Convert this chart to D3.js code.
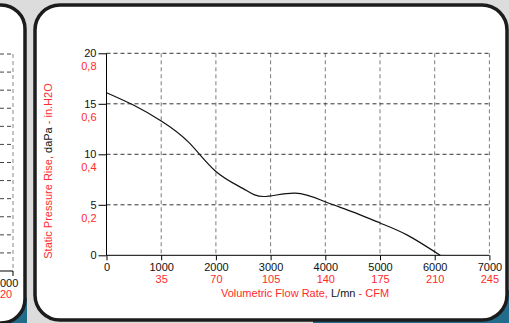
<!DOCTYPE html>
<html><head><meta charset="utf-8">
<script src="https://cdn.jsdelivr.net/npm/d3@7"></script>
<style>html,body{margin:0;padding:0;background:#dcdcdc;overflow:hidden}svg{display:block}</style>
</head><body>
<script>
// Data
const flow = [0, 500, 1000, 1500, 2000, 2500, 2870, 3450, 4000, 4500, 5000, 5500, 6100];
const pressure = [16.1, 14.85, 13.3, 11.2, 8.3, 6.6, 5.82, 6.15, 5.3, 4.3, 3.2, 2.0, 0];
const xTicks = [0, 1000, 2000, 3000, 4000, 5000, 6000, 7000];
const cfmLabels = ["", "35", "70", "105", "140", "175", "210", "245"];
const yTicks = [0, 5, 10, 15, 20];
const inH2OLabels = ["", "0,2", "0,4", "0,6", "0,8"];
const leftYTicks = [0,1,2,3,4,5,6,7,8,9,10,11,12];
const leftXLabel = "000";
const leftCfmLabel = "20";

const W = 509, H = 323;
const RED = "#ff2a2a";
const FONT = "'Liberation Sans', Arial, sans-serif";
const svg = d3.select("body").append("svg").attr("width", W).attr("height", H)
  .style("font-family", FONT);

// background pieces
svg.append("rect").attr("x",0).attr("y",0).attr("width",W).attr("height",H).attr("fill","#dcdcdc");
svg.append("rect").attr("x",313).attr("y",290).attr("width",W-313).attr("height",H-290).attr("fill","#216b8b");
svg.append("rect").attr("x",0).attr("y",298).attr("width",27).attr("height",H-298).attr("fill","#216b8b");

// left panel (partial)
svg.append("rect").attr("x",-80).attr("y",5).attr("width",105).attr("height",318)
  .attr("rx",24).attr("fill","#fff").attr("stroke","#1c1c1c").attr("stroke-width",3.5);
// main panel
svg.append("rect").attr("x",35).attr("y",5).attr("width",472).attr("height",315)
  .attr("rx",25).attr("fill","#fff").attr("stroke","#1c1c1c").attr("stroke-width",3.5);

// left partial chart
const ly = d3.scaleLinear().domain([0,12]).range([271,54]);
const lg = svg.append("g");
lg.selectAll("line.h").data(leftYTicks.slice(1)).join("line")
  .attr("x1",0).attr("x2",13).attr("y1",d=>ly(d)).attr("y2",d=>ly(d))
  .attr("stroke","#444").attr("stroke-dasharray","4,3");
lg.append("line").attr("x1",13).attr("x2",13).attr("y1",ly(12)).attr("y2",ly(0))
  .attr("stroke","#888").attr("stroke-dasharray","4,3");
lg.append("line").attr("x1",0).attr("x2",13).attr("y1",ly(0)).attr("y2",ly(0)).attr("stroke","#000");
lg.append("line").attr("x1",13).attr("x2",13).attr("y1",ly(0)).attr("y2",ly(0)+5).attr("stroke","#000");
lg.append("text").attr("x",0).attr("y",287).attr("font-size",11).attr("fill","#111").text(leftXLabel);
lg.append("text").attr("x",0).attr("y",297.5).attr("font-size",11).attr("fill",RED).text(leftCfmLabel);

// main chart scales
const x = d3.scaleLinear().domain([0,7000]).range([106.5,489.4]);
const y = d3.scaleLinear().domain([0,20]).range([255.3,53.3]);

const g = svg.append("g");
// grid
g.selectAll("line.vg").data(xTicks.slice(1)).join("line")
  .attr("x1",d=>x(d)).attr("x2",d=>x(d)).attr("y1",y(20)).attr("y2",y(0))
  .attr("stroke","#7a7a7a").attr("stroke-dasharray","4,3");
g.selectAll("line.hg").data(yTicks.slice(1)).join("line")
  .attr("x1",x(0)).attr("x2",x(7000)).attr("y1",d=>y(d)).attr("y2",d=>y(d))
  .attr("stroke","#333").attr("stroke-dasharray","4,3");

// axes
const xAxis = d3.axisBottom(x).tickValues(xTicks).tickSize(5).tickFormat(d=>d);
const gx = g.append("g").attr("transform",`translate(0,${y(0)})`).call(xAxis);
gx.select(".domain").attr("stroke","#000").attr("d",`M${x(0)},0H${x(7000)}`);
gx.selectAll(".tick line").attr("stroke","#000");
gx.selectAll(".tick text").attr("font-size",11).attr("fill","#111").attr("y",8).attr("dy","0.71em")
  .style("font-family",FONT);
gx.selectAll(".tick").append("text").attr("y",19.5).attr("dy","0.71em").attr("fill",RED)
  .attr("font-size",11).attr("text-anchor","middle")
  .style("font-family",FONT)
  .text((d,i)=>cfmLabels[i]);

const yAxis = d3.axisLeft(y).tickValues(yTicks).tickSize(8).tickPadding(2);
const gy = g.append("g").attr("transform",`translate(${x(0)},0)`).call(yAxis);
gy.select(".domain").attr("stroke","#000").attr("d",`M0,${y(20)}V${y(0)}`);
gy.selectAll(".tick line").attr("stroke","#000");
gy.selectAll(".tick text").attr("font-size",11).attr("fill","#111").attr("x",-10)
  .style("font-family",FONT);
gy.selectAll(".tick").append("text").attr("x",-10).attr("y",13).attr("dy","0.32em").attr("fill",RED)
  .attr("font-size",11).attr("text-anchor","end")
  .style("font-family",FONT)
  .text((d,i)=>inH2OLabels[i]);

// curve
const pts = flow.map((f,i)=>[f,pressure[i]]);
g.append("path").datum(pts)
  .attr("d", d3.line().x(d=>x(d[0])).y(d=>y(d[1])).curve(d3.curveNatural))
  .attr("fill","none").attr("stroke","#111").attr("stroke-width",1.2);

// axis titles
const xt = svg.append("text").attr("x",305).attr("y",296.5).attr("text-anchor","middle").attr("font-size",11);
xt.append("tspan").attr("fill",RED).text("Volumetric Flow Rate, ");
xt.append("tspan").attr("fill","#111").text("L/mn");
xt.append("tspan").attr("fill",RED).text(" - CFM");

const yt = svg.append("text").attr("transform","translate(52,171) rotate(-90)").attr("text-anchor","middle").attr("font-size",11);
yt.append("tspan").attr("fill",RED).text("Static Pressure Rise, ");
yt.append("tspan").attr("fill","#111").text("daPa");
yt.append("tspan").attr("fill",RED).text(" - in.H2O");
</script>
</body></html>
